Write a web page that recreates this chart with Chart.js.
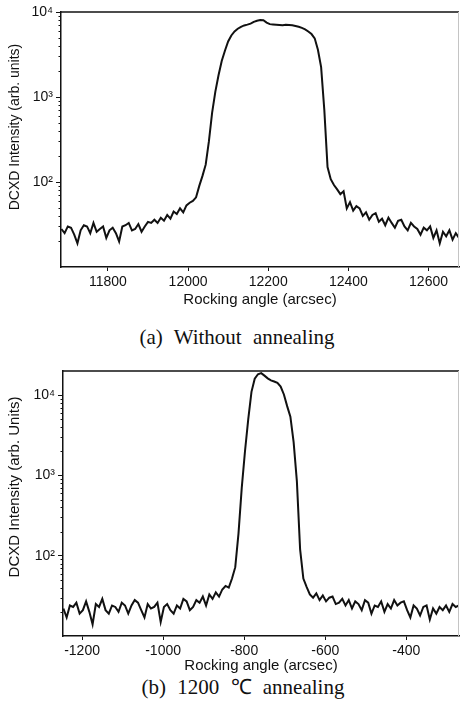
<!DOCTYPE html>
<html>
<head>
<meta charset="utf-8">
<script src="https://cdn.jsdelivr.net/npm/chart.js@4.4.1/dist/chart.umd.min.js"></script>
<style>
  html, body { margin: 0; padding: 0; background: #fff; }
  #page { position: relative; width: 460px; height: 713px; overflow: hidden; }
  canvas { position: absolute; left: 0; }
  #chartA { top: 0; }
  #chartB { top: 355px; }
  .caption {
    position: absolute;
    transform: translateX(-50%);
    font-family: 'Liberation Serif', 'Times New Roman', serif;
    font-size: 21px;
    line-height: 20px;
    word-spacing: 6px;
    white-space: nowrap;
    color: #111;
  }
</style>
</head>
<body>
<div id="page">
  <canvas id="chartA" width="460" height="309"></canvas>
  <div class="caption" style="left:237px; top:327px">(a) Without annealing</div>
  <canvas id="chartB" width="460" height="320"></canvas>
  <div class="caption" style="left:243px; top:677px">(b) 1200 ℃ annealing</div>
</div>
<script>
// (a) without annealing
const angleA = [
  11684, 11692, 11700, 11708, 11716, 11724, 11732, 11740, 11748, 11756,
  11764, 11772, 11780, 11788, 11796, 11804, 11812, 11820, 11828, 11836,
  11844, 11852, 11860, 11868, 11876, 11884, 11892, 11900, 11908, 11916,
  11924, 11932, 11940, 11948, 11956, 11964, 11972, 11980, 11988, 11996,
  12004, 12012, 12020, 12028, 12036, 12044, 12052, 12060, 12068, 12076,
  12084, 12092, 12100, 12108, 12116, 12124, 12132, 12140, 12148, 12156,
  12164, 12172, 12180, 12188, 12196, 12204, 12212, 12220, 12228, 12236,
  12244, 12252, 12260, 12268, 12276, 12284, 12292, 12300, 12308, 12316,
  12324, 12332, 12340, 12348, 12356, 12364, 12372, 12380, 12388, 12396,
  12404, 12412, 12420, 12428, 12436, 12444, 12452, 12460, 12468, 12476,
  12484, 12492, 12500, 12508, 12516, 12524, 12532, 12540, 12548, 12556,
  12564, 12572, 12580, 12588, 12596, 12604, 12612, 12620, 12628, 12636,
  12644, 12652, 12660, 12668, 12676
];
const intensityA = [
  28, 25, 30, 29, 24, 19, 27, 31, 30, 25,
  33, 26, 28, 30, 22, 27, 29, 25, 20, 30,
  31, 33, 27, 28, 32, 26, 30, 34, 33, 36,
  33, 38, 35, 41, 37, 45, 42, 49, 44, 53,
  57, 60, 66, 90, 118, 160, 300, 650, 1150, 1800,
  2650, 3500, 4500, 5300, 5900, 6350, 6700, 6950, 7100, 7300,
  7650, 7900, 8050, 8000, 7500, 7200, 7150, 7100, 7050, 7000,
  7100, 7050, 7000, 6850, 6700, 6500, 6250, 5900, 5500, 4900,
  3600, 2250, 700, 150, 108, 92, 82, 72, 78, 49,
  58, 46, 52, 49, 40, 44, 36, 41, 43, 34,
  37, 31, 38, 33, 29, 35, 36, 30, 27, 33,
  30, 28, 24, 29, 27, 30, 22, 27, 19, 26,
  23, 27, 21, 25, 22
];
const ticksXA = [11800, 12000, 12200, 12400, 12600];

// (b) 1200 C annealing
const angleB = [
  -1246, -1238, -1230, -1222, -1214, -1206, -1198, -1190, -1182, -1174,
  -1166, -1158, -1150, -1142, -1134, -1126, -1118, -1110, -1102, -1094,
  -1086, -1078, -1070, -1062, -1054, -1046, -1038, -1030, -1022, -1014,
  -1006, -998, -990, -982, -974, -966, -958, -950, -942, -934,
  -926, -918, -910, -902, -894, -886, -878, -870, -862, -854,
  -846, -838, -830, -822, -814, -806, -798, -790, -782, -774,
  -766, -758, -750, -742, -734, -726, -718, -710, -702, -694,
  -686, -678, -670, -662, -654, -646, -638, -630, -622, -614,
  -606, -598, -590, -582, -574, -566, -558, -550, -542, -534,
  -526, -518, -510, -502, -494, -486, -478, -470, -462, -454,
  -446, -438, -430, -422, -414, -406, -398, -390, -382, -374,
  -366, -358, -350, -342, -334, -326, -318, -310, -302, -294,
  -286, -278, -270
];
const intensityB = [
  22, 17, 24, 23, 26, 19, 21, 27, 20, 14,
  25, 23, 29, 21, 19, 24, 23, 20, 26, 24,
  19, 24, 28, 26, 21, 17, 25, 22, 23, 26,
  15, 23, 25, 21, 19, 24, 22, 29, 27, 21,
  23, 28, 26, 31, 24, 33, 29, 35, 31, 38,
  42, 40, 52, 72, 190, 700, 2000, 5000, 11000, 16000,
  18200, 18800, 17500, 16200, 15300, 14800, 14200, 12800, 10200, 7300,
  5400, 2600, 850, 120, 52, 41, 33, 30, 34, 28,
  32, 27, 30, 31, 25, 26, 29, 24, 28, 22,
  27, 25, 21, 28, 26, 19, 24, 23, 27, 20,
  25, 22, 28, 24, 26, 27, 21, 17, 24, 22,
  18, 23, 24, 16, 22, 19, 23, 21, 24, 20,
  25, 23, 24
];
const ticksXB = [-1200, -1000, -800, -600, -400];

const majorTicksY = [100, 1000, 10000];
const minorTicksY = [20, 30, 40, 50, 60, 70, 80, 90,
                     200, 300, 400, 500, 600, 700, 800, 900,
                     2000, 3000, 4000, 5000, 6000, 7000, 8000, 9000];

const SUP = { 1: '¹', 2: '²', 3: '³', 4: '⁴' };
const INK = '#111';
const SANS = "'Liberation Sans', Arial, Helvetica, sans-serif";

// top/right frame, minor log ticks and the y title (placed a bit above centre like the original)
const framePlugin = {
  id: 'frame',
  afterDraw(chart, args, opts) {
    const { ctx, chartArea: a, scales } = chart;
    const y = scales.y;
    ctx.save();
    ctx.strokeStyle = INK;
    ctx.lineWidth = 1.5;
    ctx.beginPath();
    ctx.moveTo(a.left, a.top);
    ctx.lineTo(a.right, a.top);
    ctx.stroke();
    ctx.strokeStyle = '#c4c4c4';
    ctx.lineWidth = 1;
    ctx.beginPath();
    ctx.moveTo(a.right - 0.5, a.top);
    ctx.lineTo(a.right - 0.5, a.bottom);
    ctx.stroke();

    ctx.strokeStyle = INK;
    ctx.lineWidth = 1;
    ctx.beginPath();
    minorTicksY.forEach(v => {
      if (v < y.min || v > y.max) return;
      const py = Math.round(y.getPixelForValue(v)) + 0.5;
      ctx.moveTo(a.left - 2.5, py);
      ctx.lineTo(a.left, py);
    });
    ctx.stroke();

    ctx.translate(opts.titleX, opts.titleY);
    ctx.rotate(-Math.PI / 2);
    ctx.font = opts.titleSize + 'px ' + SANS;
    ctx.fillStyle = INK;
    ctx.textAlign = 'center';
    ctx.textBaseline = 'middle';
    ctx.fillText(opts.title, 0, 0);
    ctx.restore();
  }
};

function makeChart(id, angles, intensity, cfg) {
  const points = angles.map((x, i) => ({ x: x, y: intensity[i] }));
  return new Chart(document.getElementById(id), {
    type: 'line',
    data: {
      datasets: [{
        data: points,
        borderColor: INK,
        borderWidth: 2,
        pointRadius: 0,
        tension: 0,
        fill: false
      }]
    },
    options: {
      responsive: false,
      animation: false,
      devicePixelRatio: 1,
      layout: { padding: { top: cfg.padTop, left: 0, right: 1, bottom: 0 } },
      plugins: {
        legend: { display: false },
        tooltip: { enabled: false },
        frame: { title: cfg.yTitle, titleX: 15, titleY: cfg.yTitleY, titleSize: cfg.yTitleSize }
      },
      scales: {
        x: {
          type: 'linear',
          min: cfg.xMin,
          max: cfg.xMax,
          afterFit: s => { s.height = cfg.xHeight; },
          afterBuildTicks: s => { s.ticks = cfg.xTicks.map(v => ({ value: v })); },
          grid: { drawOnChartArea: false, drawTicks: true, tickLength: 4, tickColor: INK },
          border: { display: true, color: INK, width: 1.5 },
          ticks: {
            color: INK,
            padding: 3,
            maxRotation: 0,
            font: { family: SANS, size: 14 },
            callback: v => String(v)
          },
          title: {
            display: true,
            text: 'Rocking angle (arcsec)',
            color: INK,
            padding: 0,
            font: { family: SANS, size: 15 }
          }
        },
        y: {
          type: 'logarithmic',
          min: 10,
          max: cfg.yMax,
          afterFit: s => { s.width = cfg.yWidth; },
          afterBuildTicks: s => { s.ticks = majorTicksY.map(v => ({ value: v })); },
          grid: { drawOnChartArea: false, drawTicks: true, tickLength: 5, tickColor: INK },
          border: { display: true, color: INK, width: 1.5 },
          ticks: {
            color: INK,
            padding: 3,
            font: { family: SANS, size: 14 },
            callback: v => '10' + SUP[Math.round(Math.log10(v))]
          }
        }
      }
    },
    plugins: [framePlugin]
  });
}

makeChart('chartA', angleA, intensityA, {
  xMin: 11683, xMax: 12676, xTicks: ticksXA, yMax: 10000,
  padTop: 12, xHeight: 42, yWidth: 61,
  yTitle: 'DCXD Intensity (arb. units)', yTitleY: 127, yTitleSize: 14
});

makeChart('chartB', angleB, intensityB, {
  xMin: -1247, xMax: -270, xTicks: ticksXB, yMax: 20000,
  padTop: 16, xHeight: 39, yWidth: 63,
  yTitle: 'DCXD Intensity (arb. Units)', yTitleY: 132, yTitleSize: 15
});
</script>
</body>
</html>
